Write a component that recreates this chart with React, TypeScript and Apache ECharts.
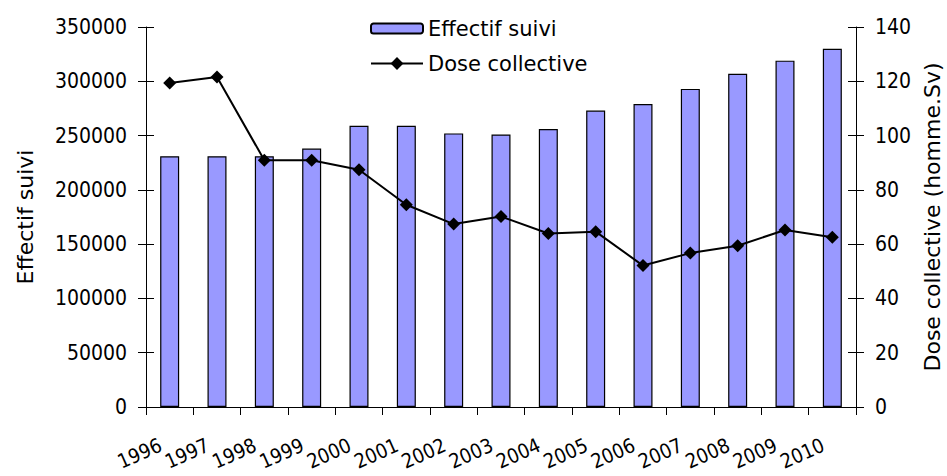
import React, { useEffect, useRef } from "react";
import * as echarts from "echarts";

const years = ["1996", "1997", "1998", "1999", "2000", "2001", "2002", "2003", "2004", "2005", "2006", "2007", "2008", "2009", "2010"];
const effectif = [231000, 231000, 231000, 238000, 259000, 259000, 252000, 251000, 256000, 273000, 279000, 293000, 307000, 319000, 330000];
const dose = [119.4, 121.6, 90.9, 90.9, 87.4, 74.5, 67.4, 70.2, 63.9, 64.6, 52.1, 56.7, 59.4, 65.2, 62.5];

const FONT = "'DejaVu Sans Condensed', 'Liberation Sans', sans-serif";
const WIDE = "'DejaVu Sans', 'Liberation Sans', sans-serif";

export default function App() {
  const ref = useRef<HTMLDivElement>(null);
  useEffect(() => {
    if (!ref.current) return;
    const chart = echarts.init(ref.current, null, { renderer: "svg" });
    const axisLine = { show: true, lineStyle: { color: "#000", width: 1 } };
    const legendText = { fontFamily: WIDE, fontSize: 21, color: "#000", lineHeight: 23 };
    chart.setOption({
      animation: false,
      textStyle: { fontFamily: FONT, fontSize: 21, color: "#000" },
      grid: { left: 146, right: 91, top: 27, bottom: 69, containLabel: false, outerBoundsMode: "none" },
      legend: [
        {
          orient: "vertical",
          left: 365,
          top: 12,
          itemWidth: 52,
          itemHeight: 10,
          textStyle: legendText,
          data: ["Effectif suivi"],
        },
        {
          orient: "vertical",
          left: 365,
          top: 47,
          itemWidth: 52,
          itemHeight: 16,
          textStyle: legendText,
          data: ["Dose collective"],
        },
      ],
      xAxis: {
        type: "category",
        data: years,
        boundaryGap: true,
        axisLine,
        axisTick: { show: true, alignWithLabel: false, length: 8, lineStyle: { color: "#000" } },
        axisLabel: {
          interval: 0,
          rotate: 24,
          margin: 33,
          padding: [0, 10, 0, 0],
          fontFamily: FONT,
          fontSize: 20,
          lineHeight: 20,
          color: "#000",
        },
        splitLine: { show: false },
      },
      yAxis: [
        {
          type: "value",
          position: "left",
          min: 0,
          max: 350000,
          interval: 50000,
          axisLine,
          axisTick: { show: true, length: 8, lineStyle: { color: "#000" } },
          axisLabel: { margin: 19, fontFamily: FONT, fontSize: 21, color: "#000", formatter: (v: number) => String(v) },
          splitLine: { show: false },
          name: "Effectif suivi",
          nameLocation: "middle",
          nameGap: 110,
          nameTextStyle: { fontFamily: WIDE, fontSize: 22, color: "#000" },
        },
        {
          type: "value",
          position: "right",
          min: 0,
          max: 140,
          interval: 20,
          axisLine,
          axisTick: { show: true, length: 8, lineStyle: { color: "#000" } },
          axisLabel: { margin: 19, fontFamily: FONT, fontSize: 21, color: "#000", formatter: (v: number) => String(v) },
          splitLine: { show: false },
          name: "Dose collective (homme.Sv)",
          nameLocation: "middle",
          nameGap: 61,
          nameTextStyle: { fontFamily: WIDE, fontSize: 22, color: "#000" },
        },
        {
          type: "value",
          position: "left",
          min: 0,
          max: 350000,
          interval: 50000,
          axisLine: { show: false },
          axisTick: { show: true, inside: true, length: 8, lineStyle: { color: "#000" } },
          axisLabel: { show: false },
          splitLine: { show: false },
        },
        {
          type: "value",
          position: "right",
          min: 0,
          max: 140,
          interval: 20,
          axisLine: { show: false },
          axisTick: { show: true, inside: true, length: 8, lineStyle: { color: "#000" } },
          axisLabel: { show: false },
          splitLine: { show: false },
        },
      ],
      series: [
        {
          name: "Effectif suivi",
          type: "bar",
          yAxisIndex: 0,
          data: effectif,
          barWidth: 19,
          itemStyle: { color: "#9999FF", borderColor: "#000", borderWidth: 1.2 },
        },
        {
          name: "Dose collective",
          type: "line",
          yAxisIndex: 1,
          data: dose,
          symbol: "diamond",
          symbolSize: 13,
          lineStyle: { color: "#000", width: 2 },
          itemStyle: { color: "#000" },
        },
      ],
    });
    return () => chart.dispose();
  }, []);
  return <div ref={ref} style={{ width: 947, height: 476, position: "absolute", left: 0, top: 0 }} />;
}
